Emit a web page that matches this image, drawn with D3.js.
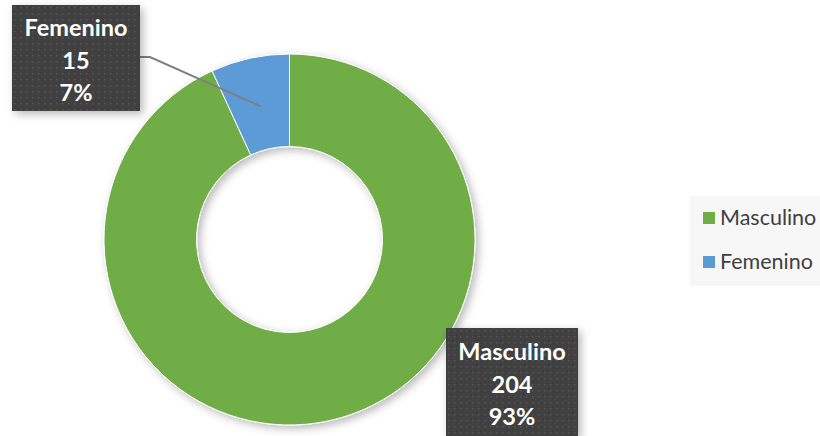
<!DOCTYPE html>
<html>
<head>
<meta charset="utf-8">
<script src="https://cdn.jsdelivr.net/npm/d3@7"></script>
<style>
  body { margin: 0; background: #fff; }
  svg { display: block; }
</style>
</head>
<body>
<svg id="chart"></svg>
<script>
// data
var categories = ["Masculino", "Femenino"];
var values = [204, 15];
var colors = ["#70AD47", "#5B9BD5"];

var width = 820,
    height = 436;

var svg = d3.select("#chart")
  .attr("width", width)
  .attr("height", height);

var defs = svg.append("defs");

// soft shadow like office charts
var shadow = defs.append("filter")
  .attr("id", "shadow")
  .attr("x", "-20%").attr("y", "-20%")
  .attr("width", "140%").attr("height", "140%");
shadow.append("feDropShadow")
  .attr("dx", 3).attr("dy", 3)
  .attr("stdDeviation", 4)
  .attr("flood-color", "#000")
  .attr("flood-opacity", 0.28);

// dotted texture of the label boxes
var dots = defs.append("pattern")
  .attr("id", "dots")
  .attr("width", 6).attr("height", 6)
  .attr("patternUnits", "userSpaceOnUse");
dots.append("rect").attr("width", 6).attr("height", 6).attr("fill", "#3f3f3f");
dots.append("rect").attr("x", 2).attr("y", 2).attr("width", 1.5).attr("height", 1.5)
  .attr("fill", "#575757");

var cx = 289.5, cy = 239.5,
    outerR = 185.5, innerR = 93;

var total = d3.sum(values);

var pie = d3.pie().sort(null).value(function (d) { return d; });
var arc = d3.arc().innerRadius(innerR).outerRadius(outerR);
var arcs = pie(values);

var g = svg.append("g")
  .attr("transform", "translate(" + cx + "," + cy + ")");

g.append("g")
  .attr("filter", "url(#shadow)")
  .selectAll("path")
  .data(arcs)
  .enter()
  .append("path")
  .attr("d", arc)
  .attr("fill", function (d, i) { return colors[i]; })
  .attr("stroke", "#fff")
  .attr("stroke-width", 1);

// leader line for the small slice
var femArc = arcs[1];
var mid = (femArc.startAngle + femArc.endAngle) / 2;
var lr = (innerR + outerR) / 2 * 0.98;
var lx = cx + Math.sin(mid) * lr,
    ly = cy - Math.cos(mid) * lr;

svg.append("polyline")
  .attr("points", [[140, 57], [150, 57], [lx, ly]].map(function (p) { return p.join(","); }).join(" "))
  .attr("fill", "none")
  .attr("stroke", "#7f7f7f")
  .attr("stroke-width", 2);

// data labels
var labels = [
  { i: 1, x: 12, y: 5, w: 128, h: 106, top: 31 },
  { i: 0, x: 446, y: 328, w: 132, h: 108, top: 32 }
];

labels.forEach(function (l) {
  var box = svg.append("g").attr("transform", "translate(" + l.x + "," + l.y + ")");
  box.append("rect")
    .attr("width", l.w)
    .attr("height", l.h)
    .attr("fill", "url(#dots)")
    .attr("filter", "url(#shadow)");
  var pct = Math.round(values[l.i] / total * 100) + "%";
  var lines = [categories[l.i], values[l.i], pct];
  box.selectAll("text")
    .data(lines)
    .enter()
    .append("text")
    .attr("x", l.w / 2)
    .attr("y", function (d, k) { return l.top + k * 32.5; })
    .attr("text-anchor", "middle")
    .style("font-family", "Lato, 'Open Sans', sans-serif")
    .style("font-weight", "bold")
    .style("font-size", "23.5px")
    .style("fill", "#fff")
    .text(function (d) { return d; });
});

// legend
var legend = svg.append("g").attr("transform", "translate(690,196)");
legend.append("rect")
  .attr("width", 130)
  .attr("height", 90)
  .attr("fill", "#f7f7f7");

var item = legend.selectAll(".item")
  .data(categories)
  .enter()
  .append("g")
  .attr("class", "item")
  .attr("transform", function (d, i) { return "translate(13," + (16 + i * 44) + ")"; });

item.append("rect")
  .attr("width", 12)
  .attr("height", 12)
  .attr("fill", function (d, i) { return colors[i]; });

item.append("text")
  .attr("x", 17)
  .attr("y", 13)
  .style("font-family", "Lato, 'Open Sans', sans-serif")
  .style("font-size", "21.5px")
  .style("fill", "#404040")
  .text(function (d) { return d; });
</script>
</body>
</html>
